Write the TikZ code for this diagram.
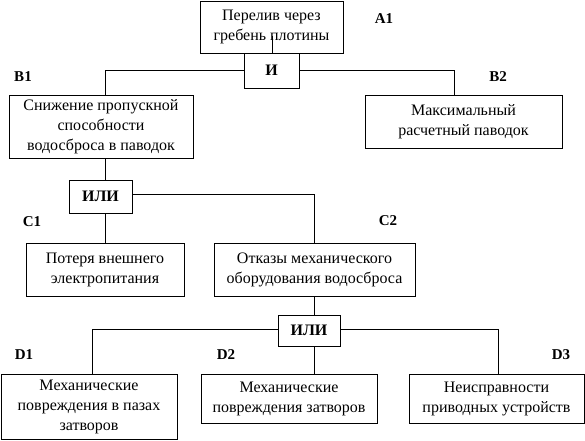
\documentclass[tikz,border=0pt]{standalone}
\usepackage{fontspec}
\setmainfont{Liberation Serif}
\begin{document}
\begin{tikzpicture}[x=1pt,y=-1pt,line width=0.8pt,
  ev/.style={draw,fill=white,align=center,inner sep=0pt,font=\fontsize{16}{20}\selectfont},
  gate/.style={draw,fill=white,inner sep=0pt,font=\fontsize{16}{18}\selectfont\bfseries},
  lab/.style={font=\fontsize{15}{17}\selectfont\bfseries}]
\useasboundingbox (0,0) rectangle (585,440);
% events
\node[ev,minimum width=143pt,minimum height=52pt] (A1) at (271.5,27) {Перелив через\\гребень плотины};
\node[gate,minimum width=55pt,minimum height=35pt] (G1) at (271.5,70.5) {И};
\node[ev,minimum width=184pt,minimum height=63pt] (B1) at (101,126.5) {Снижение пропускной\\способности\\водосброса в паводок};
\node[ev,minimum width=197pt,minimum height=53pt] (B2) at (463.5,121.5) {Максимальный\\расчетный паводок};
\node[gate,minimum width=63pt,minimum height=33pt] (G2) at (100.5,196.5) {ИЛИ};
\node[ev,minimum width=158pt,minimum height=53pt] (C1) at (105,269.5) {Потеря внешнего\\электропитания};
\node[ev,minimum width=201pt,minimum height=53pt] (C2) at (314.5,269.5) {Отказы механического\\оборудования водосброса};
\node[gate,minimum width=62pt,minimum height=31pt] (G3) at (309,330.5) {ИЛИ};
\node[ev,minimum width=176pt,minimum height=65pt] (D1) at (89,406.5) {Механические\\повреждения в пазах\\затворов};
\node[ev,minimum width=176pt,minimum height=49pt] (D2) at (289,398.5) {Механические\\повреждения затворов};
\node[ev,minimum width=175pt,minimum height=49pt] (D3) at (496.5,398.5) {Неисправности\\приводных устройств};
% labels
\node[lab] (lA1) at (384,19) {A1};
\node[lab] (lB1) at (23,77) {B1};
\node[lab] (lB2) at (498,77) {B2};
\node[lab] (lC1) at (32,222) {C1};
\node[lab] (lC2) at (388,221) {C2};
\node[lab] (lD1) at (24,355) {D1};
\node[lab] (lD2) at (226,355) {D2};
\node[lab] (lD3) at (561,355) {D3};
% connectors
\coordinate (a1in) at (272,36);
\draw (G1.north -| a1in) -- (a1in);
\draw (G1.west) -| (B1.north -| 105,0);
\draw (G1.east) -| (B2.north -| 454,0);
\draw (B1.south -| 105,0) -- (G2.north -| 105,0);
\draw (G2.south -| 105,0) -- (C1.north -| 105,0);
\draw (G2.east |- 0,194) -| (C2.north -| 314,0);
\draw (C2.south -| 314,0) -- (G3.north -| 314,0);
\draw (G3.west |- 0,329) -| (D1.north -| 92,0);
\draw (G3.south -| 314,0) -- (D2.north -| 314,0);
\draw (G3.east |- 0,329) -| (D3.north -| 498,0);
\end{tikzpicture}
\end{document}
